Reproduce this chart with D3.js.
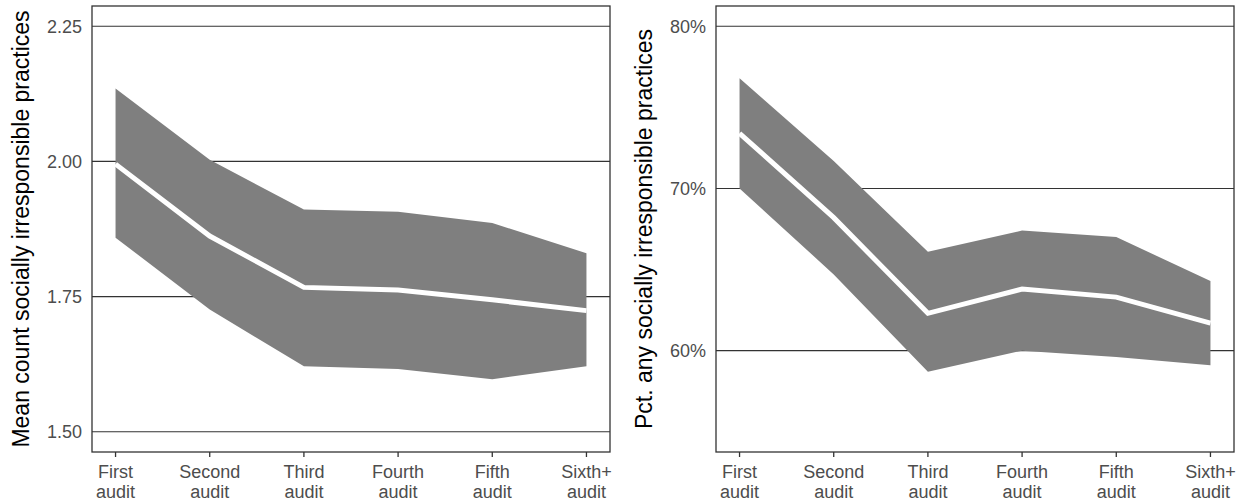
<!DOCTYPE html>
<html>
<head>
<meta charset="utf-8">
<style>
    body { margin: 0; background: white; }
    svg { font-family: 'Liberation Sans', Arial, sans-serif; }
    .tick-label { fill: #4d4d4d; font-size: 18px; }
    .axis-title { fill: black; font-size: 23px; }
</style>
</head>
<body>
<svg width="1245" height="504"></svg>

<script src="https://d3js.org/d3.v7.min.js"></script>
<script>
    // audit rounds
    let categories = ["First audit", "Second audit", "Third audit", "Fourth audit", "Fifth audit", "Sixth+ audit"]

    // left panel: mean count of practices
    let countMean = [1.995, 1.862, 1.767, 1.762, 1.744, 1.724]
    let countLow  = [1.859, 1.726, 1.621, 1.616, 1.597, 1.621]
    let countHigh = [2.135, 2.003, 1.911, 1.907, 1.886, 1.830]
    let countTicks = [1.50, 1.75, 2.00, 2.25]

    // right panel: percent with any practice
    let pctMean = [73.4, 68.2, 62.3, 63.8, 63.3, 61.7]
    let pctLow  = [70.0, 64.7, 58.7, 60.0, 59.6, 59.1]
    let pctHigh = [76.8, 71.7, 66.1, 67.4, 67.0, 64.3]
    let pctTicks = [60, 70, 80]

    let svg = d3.select("svg")

    function drawPanel(opts) {
        let { left, right, top, bottom, limits, ticks, fmt, mean, low, high, title, titleX } = opts

        // ggplot style 5% expansion around the limits
        let pad = (limits[1] - limits[0]) * 0.05
        let y = d3.scaleLinear()
            .domain([limits[0] - pad, limits[1] + pad])
            .range([bottom, top])

        let x = d3.scalePoint()
            .domain(categories)
            .range([left, right])
            .padding(0.25)

        let g = svg.append("g")

        // gridlines
        g.selectAll(".grid")
            .data(ticks)
            .join("line")
            .attr("x1", left)
            .attr("x2", right)
            .attr("y1", d => y(d))
            .attr("y2", d => y(d))
            .attr("stroke", "#333333")
            .attr("stroke-width", 1.1)

        let rows = categories.map((c, i) => ({ c: c, m: mean[i], lo: low[i], hi: high[i] }))

        let area = d3.area()
            .x(d => x(d.c))
            .y0(d => y(d.lo))
            .y1(d => y(d.hi))

        g.append("path")
            .datum(rows)
            .attr("d", area)
            .attr("fill", "#7f7f7f")

        let line = d3.line()
            .x(d => x(d.c))
            .y(d => y(d.m))

        g.append("path")
            .datum(rows)
            .attr("d", line)
            .attr("fill", "none")
            .attr("stroke", "white")
            .attr("stroke-width", 5)

        // panel border
        g.append("rect")
            .attr("x", left)
            .attr("y", top)
            .attr("width", right - left)
            .attr("height", bottom - top)
            .attr("fill", "none")
            .attr("stroke", "#333333")
            .attr("stroke-width", 1.3)

        // y tick labels
        g.selectAll(".ylab")
            .data(ticks)
            .join("text")
            .attr("class", "tick-label")
            .attr("x", left - 10)
            .attr("y", d => y(d))
            .attr("dy", "0.35em")
            .attr("text-anchor", "end")
            .text(fmt)

        // x ticks
        g.selectAll(".xtick")
            .data(categories)
            .join("line")
            .attr("x1", d => x(d))
            .attr("x2", d => x(d))
            .attr("y1", bottom)
            .attr("y2", bottom + 5)
            .attr("stroke", "#333333")
            .attr("stroke-width", 1.3)

        let xl = g.selectAll(".xlab")
            .data(categories)
            .join("text")
            .attr("class", "tick-label")
            .attr("text-anchor", "middle")

        xl.append("tspan")
            .attr("x", d => x(d))
            .attr("y", bottom + 26)
            .text(d => d.split(" ")[0])

        xl.append("tspan")
            .attr("x", d => x(d))
            .attr("y", bottom + 46)
            .text(d => d.split(" ")[1])

        // axis title
        g.append("text")
            .attr("class", "axis-title")
            .attr("transform", "translate(" + titleX + "," + ((top + bottom) / 2) + ") rotate(-90)")
            .attr("text-anchor", "middle")
            .text(title)
    }

    drawPanel({
        left: 92, right: 610, top: 6, bottom: 452,
        limits: [1.5, 2.25], ticks: countTicks,
        fmt: d => d3.format(".2f")(d),
        mean: countMean, low: countLow, high: countHigh,
        title: "Mean count socially irresponsible practices",
        titleX: 28.5
    })

    drawPanel({
        left: 716, right: 1234, top: 6, bottom: 452,
        limits: [55, 80], ticks: pctTicks,
        fmt: d => d + "%",
        mean: pctMean, low: pctLow, high: pctHigh,
        title: "Pct. any socially irresponsible practices",
        titleX: 652
    })
</script>
</body>
</html>
